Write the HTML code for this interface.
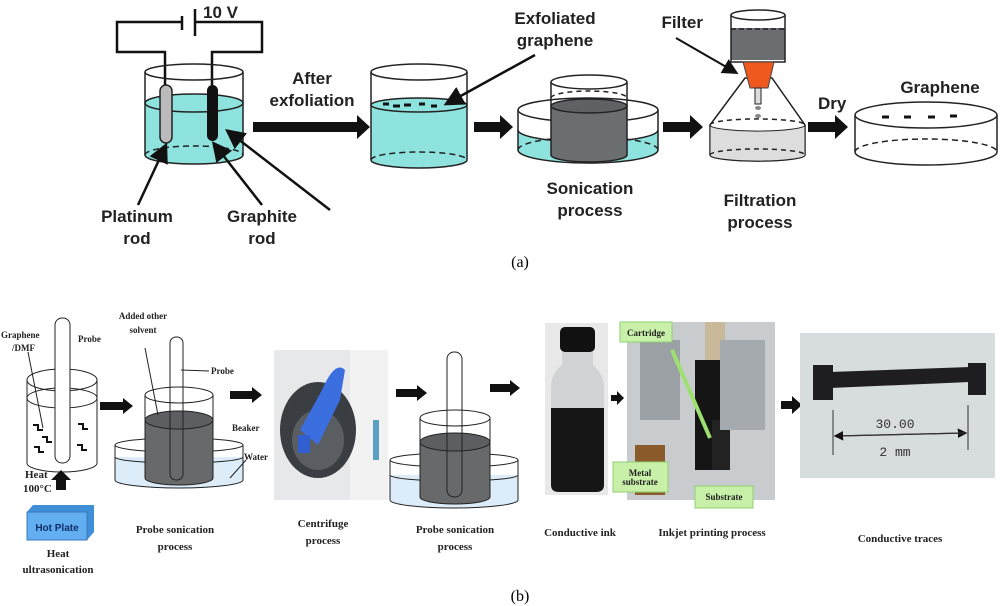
<!DOCTYPE html>
<html><head><meta charset="utf-8"><style>
body{margin:0;background:#fff}
svg{display:block}
.a{font-family:"Liberation Sans",sans-serif;font-weight:bold;font-size:17px;fill:#222}
.s{font-family:"Liberation Serif",serif;font-weight:bold;font-size:11px;fill:#222}
.t{font-family:"Liberation Serif",serif;font-size:9px;font-weight:bold;fill:#222}
</style></head><body>
<svg width="1000" height="606" viewBox="0 0 1000 606" xmlns="http://www.w3.org/2000/svg">
<defs>
<marker id="ah" markerWidth="8" markerHeight="8" refX="6" refY="4" orient="auto"><path d="M0,0 L8,4 L0,8 z" fill="#111"/></marker>
</defs>
<!-- ===== (a) ===== -->
<!-- circuit -->
<path d="M165,95 V52 H117 V22 H182 M195,22 H262 V52 H212 V95" fill="none" stroke="#111" stroke-width="2.5"/>
<line x1="182" y1="16" x2="182" y2="30" stroke="#111" stroke-width="2.5"/>
<line x1="195" y1="9" x2="195" y2="36" stroke="#111" stroke-width="2.5"/>
<text x="203" y="18" class="a">10 V</text>
<!-- beaker1 -->
<path d="M145,103 V155 A49,9 0 0 0 243,155 V103 A49,9 0 0 1 145,103z" fill="#8fe3de"/>
<ellipse cx="194" cy="103" rx="49" ry="9" fill="#8fe3de" stroke="#222" stroke-width="1.5"/>
<path d="M145,72 V155 A49,9 0 0 0 243,155 V72" fill="none" stroke="#222" stroke-width="1.5"/>
<ellipse cx="194" cy="72" rx="49" ry="8" fill="none" stroke="#222" stroke-width="1.5"/>
<path d="M145,155 A49,9 0 0 1 243,155" fill="none" stroke="#222" stroke-width="1.5" stroke-dasharray="6,4"/>
<rect x="160" y="85" width="12" height="58" rx="6" fill="#bbb" stroke="#222" stroke-width="1.5"/>
<rect x="207" y="85" width="11" height="56" rx="5.5" fill="#111"/>
<line x1="138" y1="205" x2="165" y2="147" stroke="#111" stroke-width="2.5" marker-end="url(#ah)"/>
<line x1="262" y1="205" x2="215" y2="145" stroke="#111" stroke-width="2.5" marker-end="url(#ah)"/>
<line x1="330" y1="210" x2="229" y2="132" stroke="#111" stroke-width="2.5" marker-end="url(#ah)"/>
<text x="137" y="222" class="a" text-anchor="middle">Platinum</text>
<text x="137" y="244" class="a" text-anchor="middle">rod</text>
<text x="262" y="222" class="a" text-anchor="middle">Graphite</text>
<text x="262" y="244" class="a" text-anchor="middle">rod</text>
<text x="312" y="84" class="a" text-anchor="middle">After</text>
<text x="312" y="106" class="a" text-anchor="middle">exfoliation</text>
<path d="M253,122 H357 V115 L370,127 L357,139 V132 H253z" fill="#111"/>
<!-- beaker2 -->
<path d="M371,105 V160 A48,8 0 0 0 467,160 V105z" fill="#8fe3de"/>
<ellipse cx="419" cy="105" rx="48" ry="7" fill="#8fe3de" stroke="#222" stroke-width="1.5"/>
<path d="M371,72 V160 A48,8 0 0 0 467,160 V72" fill="none" stroke="#222" stroke-width="1.5"/>
<ellipse cx="419" cy="72" rx="48" ry="8" fill="none" stroke="#222" stroke-width="1.5"/>
<path d="M371,160 A48,8 0 0 1 467,160" fill="none" stroke="#222" stroke-width="1.5" stroke-dasharray="6,4"/>
<path d="M383,104 h6 M393,106 h7 M404,105 h7 M419,104 h6 M431,106 h6" stroke="#111" stroke-width="3"/>
<text x="555" y="24" class="a" text-anchor="middle">Exfoliated</text>
<text x="555" y="46" class="a" text-anchor="middle">graphene</text>
<line x1="535" y1="55" x2="448" y2="103" stroke="#111" stroke-width="2.5" marker-end="url(#ah)"/>
<path d="M474,122 H500 V115 L513,127 L500,139 V132 H474z" fill="#111"/>
<!-- sonication -->
<path d="M518,130 V150 A70,13 0 0 0 658,150 V130 A70,12 0 0 1 518,130z" fill="#8fe3de"/>
<ellipse cx="588" cy="110" rx="70" ry="12" fill="none" stroke="#222" stroke-width="1.5"/>
<path d="M518,110 V150 A70,13 0 0 0 658,150 V110" fill="none" stroke="#222" stroke-width="1.5"/>
<path d="M518,130 A70,12 0 0 0 658,130" fill="none" stroke="#222" stroke-width="1.5"/>
<path d="M518,150 A70,13 0 0 1 658,150" fill="none" stroke="#222" stroke-width="1.5" stroke-dasharray="6,4"/>
<path d="M551,106 V155 A38,7 0 0 0 627,155 V106z" fill="#6b6e70" stroke="#222" stroke-width="1.5"/>
<ellipse cx="589" cy="106" rx="38" ry="7" fill="#5f6264" stroke="#222" stroke-width="1.5"/>
<path d="M551,82 V106 M627,82 V106" stroke="#222" stroke-width="1.5"/>
<ellipse cx="589" cy="82" rx="38" ry="7" fill="none" stroke="#222" stroke-width="1.5"/>
<path d="M551,98 A38,7 0 0 1 627,98" fill="none" stroke="#222" stroke-width="1.5" stroke-dasharray="5,4"/>
<text x="590" y="194" class="a" text-anchor="middle">Sonication</text>
<text x="590" y="216" class="a" text-anchor="middle">process</text>
<path d="M663,122 H690 V115 L703,127 L690,139 V132 H663z" fill="#111"/>
<!-- filter -->
<path d="M731,28 V60 H785 V28z" fill="#6b6e70"/>
<path d="M731,15 V62 H785 V15" fill="none" stroke="#222" stroke-width="1.5"/>
<ellipse cx="758" cy="15" rx="27" ry="5" fill="#fff" stroke="#222" stroke-width="1.5"/>
<line x1="731" y1="29" x2="785" y2="29" stroke="#222" stroke-dasharray="5,3" stroke-width="1.5"/>
<path d="M710,125 L745,78 H772 L805,125 V155 A47,6 0 0 1 710,155z" fill="#fff" stroke="#222" stroke-width="1.5"/>
<path d="M710,125 A47,6 0 0 0 805,125 V155 A47,6 0 0 1 710,155z" fill="#ddd" stroke="#222" stroke-width="1"/>
<path d="M710,125 A47,6 0 0 1 805,125 M710,155 A47,6 0 0 1 805,155" fill="none" stroke="#222" stroke-width="1.5" stroke-dasharray="5,4"/>
<path d="M743,62 H774 L768,88 H750z" fill="#f0591e" stroke="#444" stroke-width="1"/>
<rect x="755" y="88" width="6" height="16" fill="#ddd" stroke="#222"/>
<ellipse cx="758" cy="108" rx="3" ry="2" fill="#888"/><ellipse cx="758" cy="116" rx="3" ry="2" fill="#888"/>
<text x="703" y="28" class="a" text-anchor="end">Filter</text>
<line x1="676" y1="38" x2="735" y2="72" stroke="#111" stroke-width="2" marker-end="url(#ah)"/>
<text x="760" y="206" class="a" text-anchor="middle">Filtration</text>
<text x="760" y="228" class="a" text-anchor="middle">process</text>
<path d="M808,122 H835 V115 L848,127 L835,139 V132 H808z" fill="#111"/>
<text x="818" y="109" class="a">Dry</text>
<!-- graphene dish -->
<ellipse cx="926" cy="115" rx="71" ry="13" fill="none" stroke="#222" stroke-width="1.5"/>
<path d="M855,115 V152 A71,13 0 0 0 997,152 V115" fill="none" stroke="#222" stroke-width="1.5"/>
<path d="M855,152 A71,13 0 0 1 997,152" fill="none" stroke="#222" stroke-width="1.5" stroke-dasharray="6,4"/>
<path d="M882,117 h7 M904,117 h7 M928,117 h7 M950,116 h7" stroke="#111" stroke-width="3"/>
<text x="940" y="93" class="a" text-anchor="middle">Graphene</text>
<text x="520" y="267" font-family="Liberation Serif,serif" font-size="16" text-anchor="middle">(a)</text>

<!-- ===== (b) ===== -->
<ellipse cx="62" cy="380" rx="35" ry="11" fill="none" stroke="#222"/>
<ellipse cx="62" cy="398" rx="35" ry="10" fill="none" stroke="#222"/>
<path d="M27,380 V463 A35,9 0 0 0 97,463 V380" fill="none" stroke="#222"/>
<rect x="55" y="318" width="15" height="145" rx="7" fill="#fff" stroke="#222"/>
<g stroke="#111" stroke-width="2" fill="none"><path d="M33,425 h5 v5 h5 M42,437 h5 v5 h5 M34,447 h5 v5 h5 M78,424 h5 v5 h5 M77,445 h5 v5 h5"/></g>
<text x="1" y="338" class="t">Graphene</text><text x="12" y="351" class="t">/DMF</text>
<line x1="28" y1="352" x2="43" y2="428" stroke="#222"/>
<text x="78" y="342" class="t">Probe</text>
<text x="25" y="478" class="s" font-size="10">Heat</text><text x="23" y="492" class="s" font-size="10">100°C</text>
<path d="M56,490 V480 H51 L61,470 L71,480 H66 V490z" fill="#111"/>
<path d="M27,512 L33,505 H94 V532 L87,540 H27z" fill="#3f8fd8"/>
<rect x="27" y="512" width="60" height="28" fill="#62aef0" stroke="#3a78b8"/>
<text x="57" y="531" font-family="Liberation Sans,sans-serif" font-weight="bold" font-size="10" fill="#0f2f6a" text-anchor="middle">Hot Plate</text>
<text x="58" y="557" class="s" text-anchor="middle">Heat</text><text x="58" y="573" class="s" text-anchor="middle">ultrasonication</text>
<path d="M100,402 H123 V398 L133,406 L123,414 V410 H100z" fill="#111"/>
<!-- b2 -->
<path d="M115,457 V480 A64,8 0 0 0 243,480 V457z" fill="#dcecf8"/>
<ellipse cx="179" cy="445" rx="64" ry="7" fill="none" stroke="#222"/>
<path d="M115,445 V480 A64,8 0 0 0 243,480 V445" fill="none" stroke="#222"/>
<path d="M115,457 A64,6 0 0 0 243,457" fill="none" stroke="#222"/>
<path d="M145,420 V478 A34,7 0 0 0 213,478 V420z" fill="#67696b" stroke="#222"/>
<ellipse cx="179" cy="420" rx="34" ry="9" fill="#5c5e60" stroke="#222"/>
<path d="M145,395 V420 M213,395 V420" stroke="#222"/>
<ellipse cx="179" cy="395" rx="34" ry="8" fill="none" stroke="#222"/>
<rect x="170" y="337" width="13" height="143" rx="6" fill="none" stroke="#222"/>
<text x="143" y="319" class="t" text-anchor="middle">Added other</text><text x="143" y="333" class="t" text-anchor="middle">solvent</text>
<line x1="145" y1="348" x2="158" y2="415" stroke="#222"/>
<text x="211" y="374" class="t">Probe</text><line x1="209" y1="371" x2="181" y2="370" stroke="#222"/>
<text x="232" y="431" class="t">Beaker</text><text x="244" y="460" class="t">Water</text>
<line x1="246" y1="460" x2="230" y2="478" stroke="#222"/>
<text x="175" y="533" class="s" text-anchor="middle">Probe sonication</text><text x="175" y="550" class="s" text-anchor="middle">process</text>
<path d="M230,391 H252 V387 L262,395 L252,403 V399 H230z" fill="#111"/>
<!-- centrifuge photo -->
<rect x="274" y="350" width="114" height="150" fill="#e6e8ea"/>
<rect x="350" y="350" width="38" height="150" fill="#f2f2f2"/>
<ellipse cx="318" cy="430" rx="38" ry="48" fill="#3a3d42"/>
<ellipse cx="318" cy="440" rx="26" ry="30" fill="#5a5e62"/>
<path d="M322,390 Q335,360 345,370 L340,400 Q330,420 318,445 L300,430z" fill="#3b6fe0"/>
<rect x="298" y="435" width="12" height="18" fill="#2f5fd0"/>
<rect x="373" y="420" width="6" height="40" fill="#5aa0c0"/>
<text x="323" y="527" class="s" text-anchor="middle">Centrifuge</text><text x="323" y="544" class="s" text-anchor="middle">process</text>
<path d="M396,389 H417 V385 L427,393 L417,401 V397 H396z" fill="#111"/>
<!-- b4 -->
<path d="M390,475 V500 A64,8 0 0 0 518,500 V475z" fill="#dcecf8"/>
<ellipse cx="454" cy="460" rx="64" ry="7" fill="none" stroke="#222"/>
<path d="M390,460 V500 A64,8 0 0 0 518,500 V460" fill="none" stroke="#222"/>
<path d="M390,475 A64,6 0 0 0 518,475" fill="none" stroke="#222"/>
<path d="M420,442 V497 A35,7 0 0 0 490,497 V442z" fill="#67696b" stroke="#222"/>
<ellipse cx="455" cy="442" rx="35" ry="9" fill="#5c5e60" stroke="#222"/>
<path d="M420,418 V442 M490,418 V442" stroke="#222"/>
<ellipse cx="455" cy="418" rx="35" ry="8" fill="none" stroke="#222"/>
<rect x="447" y="352" width="15" height="145" rx="7" fill="none" stroke="#222"/>
<text x="455" y="533" class="s" text-anchor="middle">Probe sonication</text><text x="455" y="550" class="s" text-anchor="middle">process</text>
<path d="M490,384 H510 V380 L520,388 L510,396 V392 H490z" fill="#111"/>
<!-- bottle -->
<rect x="545" y="323" width="63" height="172" fill="#e8e8e8"/>
<rect x="560" y="327" width="35" height="25" rx="5" fill="#111"/>
<path d="M562,352 H593 V365 Q605,375 604,390 V485 Q604,492 596,492 H559 Q551,492 551,485 V390 Q550,375 562,365z" fill="#cfd3d4"/>
<path d="M551,408 H604 V485 Q604,492 596,492 H559 Q551,492 551,485z" fill="#161616"/>
<text x="580" y="536" class="s" text-anchor="middle">Conductive ink</text>
<path d="M611,395 H617 V391 L624,398 L617,405 V401 H611z" fill="#111"/>
<!-- inkjet -->
<rect x="627" y="322" width="148" height="178" fill="#c9ccce"/>
<rect x="640" y="340" width="40" height="80" fill="#9aa0a4"/>
<rect x="695" y="360" width="32" height="110" fill="#151515"/>
<rect x="712" y="420" width="18" height="50" fill="#222"/>
<rect x="705" y="322" width="20" height="38" fill="#c9b99a"/>
<rect x="635" y="445" width="30" height="50" fill="#8a5a2a"/>
<rect x="720" y="340" width="45" height="90" fill="#a5aaae"/>
<rect x="620" y="322" width="52" height="20" fill="#c8f0a8" stroke="#8fd070"/>
<text x="646" y="336" class="t" font-size="7" text-anchor="middle">Cartridge</text>
<line x1="672" y1="350" x2="710" y2="438" stroke="#9ee070" stroke-width="4"/>
<rect x="613" y="462" width="55" height="30" fill="#c8f0a8" stroke="#8fd070"/>
<text x="640" y="476" class="t" font-size="7" text-anchor="middle">Metal</text><text x="640" y="485" class="t" font-size="7" text-anchor="middle">substrate</text>
<rect x="695" y="486" width="58" height="22" fill="#c8f0a8" stroke="#8fd070"/>
<text x="724" y="500" class="t" font-size="7" text-anchor="middle">Substrate</text>
<text x="712" y="536" class="s" text-anchor="middle">Inkjet printing process</text>
<path d="M781,401 H792 V396 L802,405 L792,414 V409 H781z" fill="#111"/>
<!-- traces -->
<rect x="800" y="333" width="195" height="145" fill="#d7dcdc"/>
<rect x="813" y="365" width="20" height="35" fill="#1e1e22"/>
<rect x="968" y="363" width="18" height="32" fill="#1e1e22"/>
<path d="M830,372 L970,367 V382 L830,388z" fill="#1e1e22"/>
<text x="895" y="428" font-family="Liberation Mono,monospace" font-size="13" fill="#333" text-anchor="middle">30.00</text>
<line x1="833" y1="410" x2="833" y2="455" stroke="#333"/><line x1="968" y1="405" x2="968" y2="450" stroke="#333"/>
<line x1="835" y1="436" x2="965" y2="433" stroke="#333" stroke-width="1.2" marker-end="url(#ah)"/>
<line x1="965" y1="433" x2="836" y2="436" stroke="#333" stroke-width="1.2" marker-end="url(#ah)"/>
<text x="895" y="456" font-family="Liberation Mono,monospace" font-size="13" fill="#333" text-anchor="middle">2 mm</text>
<text x="900" y="542" class="s" text-anchor="middle">Conductive traces</text>
<text x="520" y="601" font-family="Liberation Serif,serif" font-size="16" text-anchor="middle">(b)</text>
</svg>
</body></html>
